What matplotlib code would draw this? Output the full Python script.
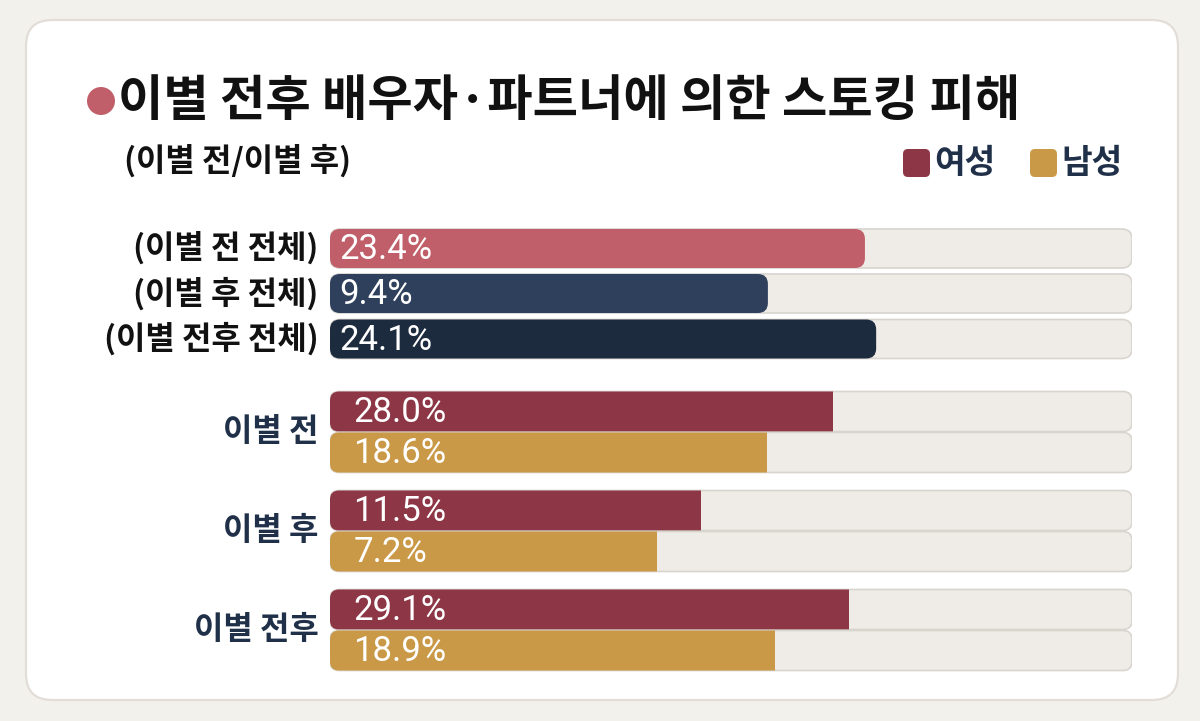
import matplotlib
matplotlib.use("Agg")
import matplotlib.pyplot as plt
from matplotlib.patches import FancyBboxPatch, Rectangle, Circle
from matplotlib import font_manager

plt.rcParams['font.family'] = ['Noto Sans CJK KR', 'DejaVu Sans']

# ---- data ----
total_labels = ["(이별 전 전체)", "(이별 후 전체)", "(이별 전후 전체)"]
total_values = [23.4, 9.4, 24.1]
# drawn bar length, as % of the grey track (the infographic is not to scale)
total_lengths = [66.7, 54.6, 68.1]

group_labels = ["이별 전", "이별 후", "이별 전후"]
female_values = [28.0, 11.5, 29.1]
male_values = [18.6, 7.2, 18.9]
female_lengths = [62.7, 46.3, 64.7]
male_lengths = [54.5, 40.8, 55.5]

title = "이별 전후 배우자·파트너에 의한 스토킹 피해"
subtitle = "(이별 전/이별 후)"
legend_names = ["여성", "남성"]

# ---- colours ----
page_bg = "#f3f1ec"
card_edge = "#e2ded7"
track_col = "#efece7"
track_edge = "#d8d4ce"
total_cols = ["#c05f69", "#2f405d", "#1d2b3e"]
female_col = "#8c3646"
male_col = "#c99947"
navy_text = "#1f3048"

num_font = "Roboto"
avail = {f.name for f in font_manager.fontManager.ttflist}
if "Liberation Sans Narrow" in avail:
    num_font = "Liberation Sans Narrow"

W, H = 1200, 721
fig = plt.figure(figsize=(W / 100, H / 100), dpi=100, facecolor=page_bg)

# full-figure axes in pixel units for the card and headings
bg = fig.add_axes([0, 0, 1, 1])
bg.set_xlim(0, W)
bg.set_ylim(H, 0)
bg.axis("off")
bg.add_patch(FancyBboxPatch((26, 20), 1152, 680,
                            boxstyle="round,pad=0,rounding_size=26",
                            fc="white", ec=card_edge, lw=1.6))
bg.add_patch(Circle((101, 101), 14, fc="#c05f69", ec="none"))
bg.text(118, 101, title, fontsize=35.5, fontweight="bold", color="#111111",
        ha="left", va="center")
bg.text(124, 161, subtitle, fontsize=23, fontweight="bold", color="#111111",
        ha="left", va="center")

# legend
leg_x = [903, 1030]
for i, name in enumerate(legend_names):
    col = [female_col, male_col][i]
    bg.add_patch(FancyBboxPatch((leg_x[i], 149), 27, 28,
                                boxstyle="round,pad=0,rounding_size=5",
                                fc=col, ec="none"))
    bg.text(leg_x[i] + 31, 163, name, fontsize=24, fontweight="bold",
            color=navy_text, ha="left", va="center")

# bar axes: x = 0..100 % of track, y in pixels from top
tl, tr, top, bot = 330, 1132, 225, 676
ax = fig.add_axes([tl / W, (H - bot) / H, (tr - tl) / W, (bot - top) / H])
ax.set_xlim(0, 100)
ax.set_ylim(bot, top)
ax.axis("off")
px = 100 / (tr - tl)          # x units per pixel
asp = 1 / px                  # y units (px) per x unit


def rbar(x0, y, w, h, r, square_end=False, **kw):
    extra = 2 * r * px if square_end else 0
    p = FancyBboxPatch((x0, y - h / 2), w + extra, h,
                       boxstyle=f"round,pad=0,rounding_size={r * px}",
                       mutation_aspect=asp, **kw)
    ax.add_patch(p)
    if square_end:
        clip = Rectangle((x0, y - h / 2 - 2), w, h + 4, transform=ax.transData)
        p.set_clip_path(clip)


# top three totals
total_y = [248.5, 293.5, 339]
for i in range(3):
    y = total_y[i]
    rbar(0, y, 100, 39, 10, fc=track_col, ec=track_edge, lw=1.2)
    rbar(0, y, total_lengths[i], 39, 10, fc=total_cols[i], ec="none")
    ax.text(1.2, y + 1, f"{total_values[i]}%", fontsize=25, color="white",
            family=num_font, ha="left", va="center")
    ax.text(-1.4, y, total_labels[i], fontsize=23, fontweight="bold",
            color="#111111", ha="right", va="center")

# gender groups
for g in range(3):
    yf = 411.5 + 99 * g
    ym = yf + 41
    for y, val, ln, col in [(yf, female_values[g], female_lengths[g], female_col),
                            (ym, male_values[g], male_lengths[g], male_col)]:
        rbar(0, y, 100, 40, 9, fc=track_col, ec=track_edge, lw=1.2)
        rbar(0, y, ln, 40, 9, square_end=True, fc=col, ec="none")
        ax.text(2.9, y + 1, f"{val}%", fontsize=25, color="white",
                family=num_font, ha="left", va="center")
    ax.text(-1.4, (yf + ym) / 2, group_labels[g], fontsize=23,
            fontweight="bold", color=navy_text, ha="right", va="center")

fig.savefig("out.png", dpi=100, facecolor=page_bg)
